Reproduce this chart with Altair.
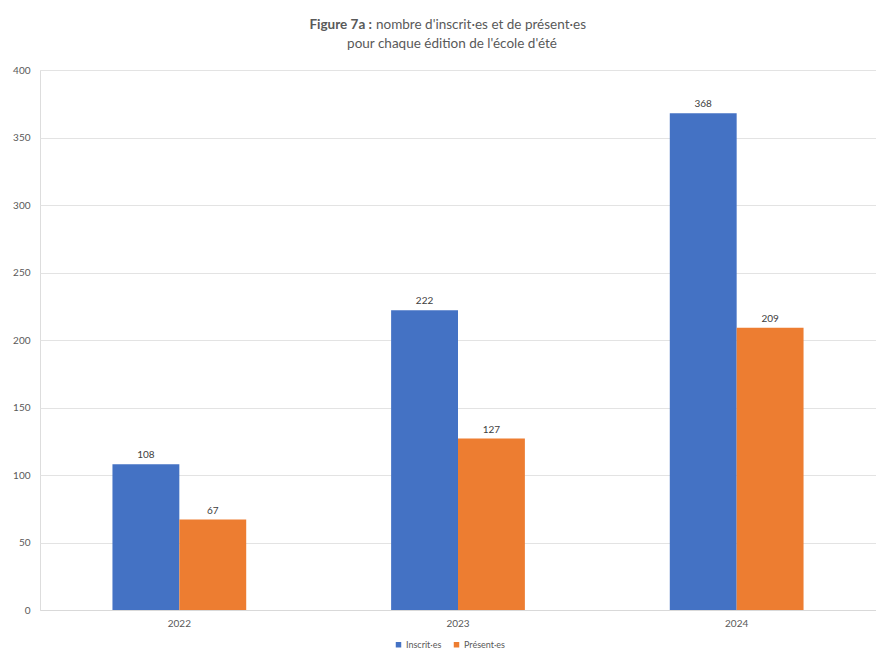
import altair as alt
import pandas as pd

years = ["2022", "2023", "2024"]
series = ["Inscrit·es", "Présent·es"]
inscrits = [108, 222, 368]
presents = [67, 127, 209]
colors = ["#4472C4", "#ED7D31"]

rows = []
for i, y in enumerate(years):
    rows.append({"annee": y, "serie": series[0], "valeur": inscrits[i]})
    rows.append({"annee": y, "serie": series[1], "valeur": presents[i]})
df = pd.DataFrame(rows)

FONT = "Lato"
W, H = 836, 540

base = alt.Chart(df).encode(
    x=alt.X("annee:N", title=None, sort=years,
            scale=alt.Scale(paddingInner=0.52, paddingOuter=0.26),
            axis=alt.Axis(labelAngle=0, domain=True, domainColor="#d9d9d9", ticks=False,
                          labelColor="#595959", labelFontSize=10, labelFont=FONT, labelPadding=8)),
    xOffset=alt.XOffset("serie:N", sort=series),
    y=alt.Y("valeur:Q", title=None,
            scale=alt.Scale(domain=[0, 400]),
            axis=alt.Axis(values=list(range(0, 401, 50)), domain=False, ticks=False,
                          gridColor="#e3e3e3", labelColor="#595959", labelFontSize=10,
                          labelFont=FONT, labelPadding=10)),
)

bars = base.mark_bar().encode(
    color=alt.Color("serie:N", sort=series,
                    scale=alt.Scale(domain=series, range=colors),
                    legend=alt.Legend(title=None, orient="none", legendX=354, legendY=H + 30,
                                      direction="horizontal",
                                      symbolType="square", symbolSize=30, labelFontSize=9,
                                      labelColor="#595959", labelFont=FONT,
                                      columnPadding=10, symbolStrokeWidth=0, labelOffset=3))
)

labels = base.mark_text(dy=-9, fontSize=10, color="#404040", font=FONT).encode(
    text="valeur:Q"
)

title_df = pd.DataFrame({"a": [0]})
t_bold = alt.Chart(title_df).mark_text(
    text="Figure 7a :", fontWeight="bold", fontSize=13.5, font=FONT, color="#595959",
    align="right", baseline="middle"
).encode(x=alt.value(332), y=alt.value(-45))
t_reg = alt.Chart(title_df).mark_text(
    text="nombre d'inscrit·es et de présent·es", fontSize=13.5, font=FONT, color="#595959",
    align="left", baseline="middle"
).encode(x=alt.value(336), y=alt.value(-45))
t_line2 = alt.Chart(title_df).mark_text(
    text="pour chaque édition de l'école d'été", fontSize=13.5, font=FONT, color="#595959",
    align="center", baseline="middle"
).encode(x=alt.value(412), y=alt.value(-26))

chart = alt.layer(bars, labels, t_bold, t_reg, t_line2).properties(
    width=W, height=H,
    autosize=alt.AutoSizeParams(type="none"),
    padding={"left": 32, "top": 62, "right": 0, "bottom": 44},
).configure_view(stroke=None).configure(background="white")

chart.save("out.html", embed_options={"renderer": "svg", "actions": False})
